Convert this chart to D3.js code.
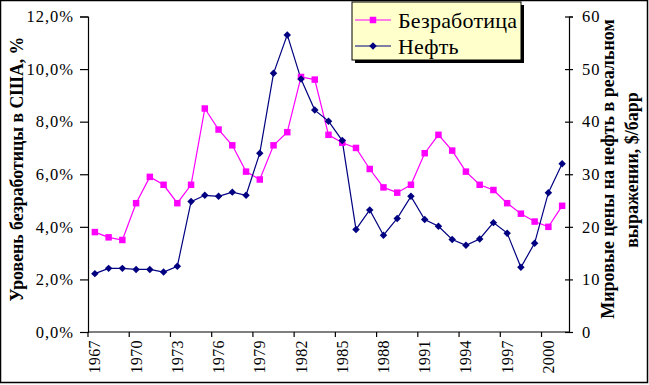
<!DOCTYPE html>
<html><head><meta charset="utf-8">
<script src="https://cdn.jsdelivr.net/npm/d3@7/dist/d3.min.js"></script>
<style>
html,body{margin:0;padding:0;background:#fff;}
svg text{font-family:"Liberation Serif","Times New Roman",serif;}
</style>
</head><body>
<svg id="c" width="649" height="385"></svg>
<script>
const years = d3.range(1967, 2002).map(String);
const unemployment = [3.8,3.6,3.5,4.9,5.9,5.6,4.9,5.6,8.5,7.7,7.1,6.1,5.8,7.1,7.6,9.7,9.6,7.5,7.2,7.0,6.2,5.5,5.3,5.6,6.8,7.5,6.9,6.1,5.6,5.4,4.9,4.5,4.2,4.0,4.8];
const oil = [11.1,12.1,12.1,11.9,11.9,11.4,12.5,24.8,26.0,25.8,26.6,26.0,34.0,49.2,56.5,48.1,42.2,40.1,36.4,19.5,23.2,18.4,21.6,25.8,21.4,20.1,17.6,16.5,17.7,20.8,18.8,12.3,16.9,26.5,32.0];
const leftTicks = [0,2,4,6,8,10,12];
const rightTicks = [0,10,20,30,40,50,60];
const xLabelYears = ["1967","1970","1973","1976","1979","1982","1985","1988","1991","1994","1997","2000"];
const seriesNames = ["Безработица","Нефть"];
const leftTitle = "Уровень безработицы в США, %";
const rightTitle = ["Мировые цены на нефть в реальном","выражении, $/барр"];

const svg = d3.select("#c");
const L = 88, R = 569, T = 16.5, B = 332;
const navy = "#000080", pink = "#FF00FF";

svg.append("rect").attr("x",0.5).attr("y",0.5).attr("width",647).attr("height",382)
  .attr("fill","#fff").attr("stroke","#000").attr("stroke-width",1.5);

const x = d3.scaleBand().domain(years).range([L,R]).padding(0);
const cx = d => x(d) + x.bandwidth()/2;
const yL = d3.scaleLinear().domain([0,12]).range([B,T]);
const yR = d3.scaleLinear().domain([0,60]).range([B,T]);

const la = svg.append("g").attr("transform",`translate(${L},0)`)
  .call(d3.axisLeft(yL).tickValues(leftTicks).tickSize(8).tickPadding(6)
    .tickFormat(d => d3.format(".1f")(d).replace(".",",")+"%"));
const ra = svg.append("g").attr("transform",`translate(${R},0)`)
  .call(d3.axisRight(yR).tickValues(rightTicks).tickSize(4).tickPadding(9));
[la,ra].forEach(a=>{
  a.attr("font-family",null);
  a.select(".domain").attr("stroke","#000").attr("stroke-width",1.2);
  a.selectAll(".tick line").attr("stroke","#000").attr("stroke-width",1.2);
  a.selectAll("text").attr("font-size",16.5).attr("fill","#000").attr("letter-spacing","1px");
});
la.selectAll(".tick line").attr("x1",-8).attr("x2",0);
ra.selectAll(".tick line").attr("x1",-4).attr("x2",4);

const xa = svg.append("g").attr("transform",`translate(0,${B})`);
xa.append("line").attr("x1",L).attr("x2",R).attr("y1",0).attr("y2",0).attr("stroke","#000").attr("stroke-width",1.2);
const bounds = d3.range(0, years.length+1, 3);
xa.selectAll("line.t").data(bounds).join("line").attr("class","t")
  .attr("x1",i=> L + i*x.step()).attr("x2",i=> L + i*x.step())
  .attr("y1",0).attr("y2",5).attr("stroke","#000").attr("stroke-width",1.2);
xa.selectAll("text").data(xLabelYears).join("text")
  .attr("transform",d=>`translate(${cx(d)+5.5},${8}) rotate(-90)`)
  .attr("text-anchor","end").attr("font-size",16).attr("letter-spacing","0.4px").attr("fill","#000").text(d=>d);

svg.append("text").attr("transform",`translate(23,169) rotate(-90)`)
  .attr("text-anchor","middle").attr("font-size",17.8).attr("font-weight","bold").text(leftTitle);
svg.append("text").attr("transform",`translate(614,169) rotate(-90)`)
  .attr("text-anchor","middle").attr("font-size",18).attr("font-weight","bold").text(rightTitle[0]);
svg.append("text").attr("transform",`translate(638,170) rotate(-90)`)
  .attr("text-anchor","middle").attr("font-size",18).attr("font-weight","bold").text(rightTitle[1]);

const lineU = d3.line().x((d,i)=>cx(years[i])).y(d=>yL(d));
const lineO = d3.line().x((d,i)=>cx(years[i])).y(d=>yR(d));
svg.append("path").datum(unemployment).attr("d",lineU).attr("fill","none").attr("stroke",pink).attr("stroke-width",1.2);
svg.append("path").datum(oil).attr("d",lineO).attr("fill","none").attr("stroke",navy).attr("stroke-width",1.2);
const sq = d3.symbol().type(d3.symbolSquare).size(42);
const di = d3.symbol().type(d3.symbolSquare).size(28);
svg.append("g").selectAll("path").data(unemployment).join("path")
  .attr("transform",(d,i)=>`translate(${cx(years[i])},${yL(d)})`).attr("d",sq).attr("fill",pink);
svg.append("g").selectAll("path").data(oil).join("path")
  .attr("transform",(d,i)=>`translate(${cx(years[i])},${yR(d)}) rotate(45)`).attr("d",di).attr("fill",navy);

const lg = svg.append("g");
lg.append("rect").attr("x",355).attr("y",5).attr("width",169).attr("height",58).attr("fill","#000");
lg.append("rect").attr("x",352).attr("y",2).attr("width",169).attr("height",58)
  .attr("fill","#FFFFCC").attr("stroke","#000").attr("stroke-width",1);
const items = [{n:seriesNames[0],c:pink,s:sq,r:0,y:20},{n:seriesNames[1],c:navy,s:di,r:45,y:46}];
items.forEach(it=>{
  lg.append("line").attr("x1",355).attr("x2",391).attr("y1",it.y).attr("y2",it.y).attr("stroke",it.c).attr("stroke-width",1.2);
  lg.append("path").attr("transform",`translate(373,${it.y}) rotate(${it.r})`).attr("d",it.s).attr("fill",it.c);
  lg.append("text").attr("x",398).attr("y",it.y+7.5).attr("font-size",22).attr("letter-spacing","0.2px").attr("fill","#000").text(it.n);
});
</script>
</body></html>
